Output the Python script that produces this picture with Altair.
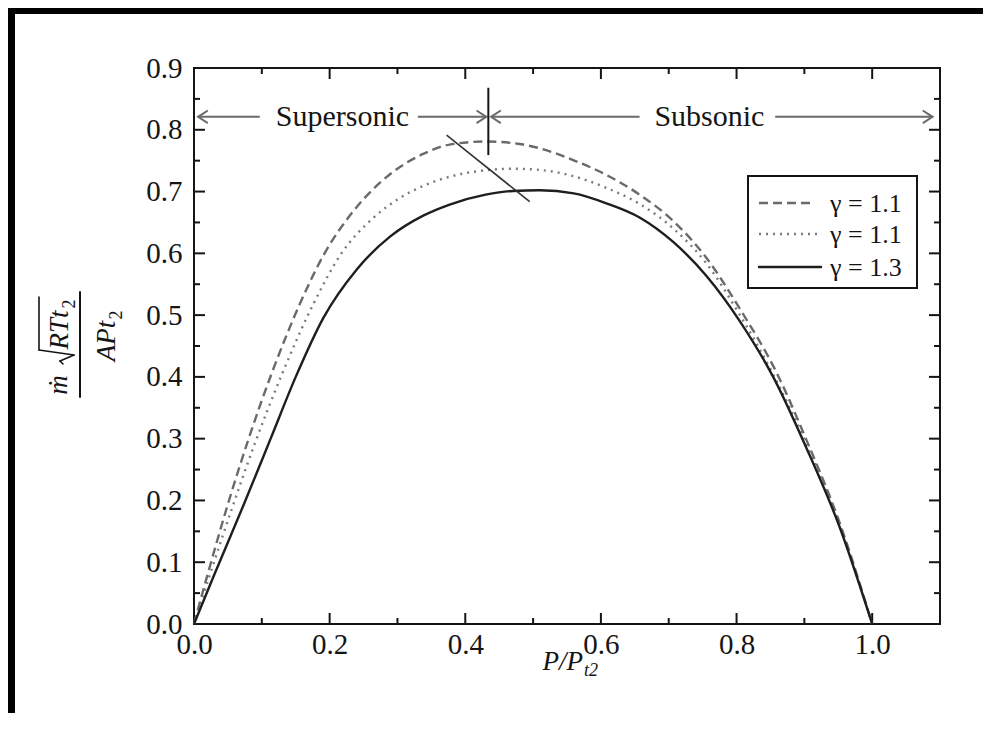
import altair as alt
import pandas as pd

# ---------------- data ----------------
x_dash = [0, 0.020, 0.050, 0.080, 0.115, 0.156, 0.191, 0.240, 0.289, 0.338, 0.377, 0.430,
          0.480, 0.510, 0.559, 0.608, 0.657, 0.707, 0.756, 0.805, 0.859, 0.903, 0.952, 1.0]
y_dash = [0, 0.080, 0.194, 0.298, 0.407, 0.518, 0.597, 0.675, 0.728, 0.761, 0.776, 0.781,
          0.777, 0.770, 0.751, 0.727, 0.695, 0.652, 0.592, 0.510, 0.407, 0.298, 0.164, 0.0]

x_dot = [0, 0.025, 0.055, 0.090, 0.130, 0.176, 0.215, 0.264, 0.304, 0.340, 0.377, 0.426,
         0.470, 0.510, 0.559, 0.608, 0.657, 0.707, 0.756, 0.805, 0.854, 0.903, 0.952, 1.0]
y_dot = [0, 0.085, 0.184, 0.293, 0.405, 0.518, 0.596, 0.657, 0.690, 0.710, 0.724, 0.734,
         0.737, 0.735, 0.725, 0.706, 0.680, 0.640, 0.583, 0.500, 0.404, 0.291, 0.160, 0.0]

x_solid = [0, 0.030, 0.074, 0.113, 0.150, 0.191, 0.240, 0.289, 0.338, 0.377, 0.430,
           0.470, 0.510, 0.560, 0.608, 0.657, 0.707, 0.756, 0.805, 0.854, 0.903, 0.952, 1.0]
y_solid = [0, 0.080, 0.195, 0.300, 0.400, 0.496, 0.574, 0.627, 0.661, 0.679, 0.695,
           0.701, 0.702, 0.697, 0.681, 0.658, 0.618, 0.563, 0.490, 0.400, 0.285, 0.157, 0.0]

legend_labels = ["\u03b3 = 1.1", "\u03b3 = 1.1", "\u03b3 = 1.3"]

x_major = [0.0, 0.2, 0.4, 0.6, 0.8, 1.0]
x_minor = [0.1, 0.3, 0.5, 0.7, 0.9]
y_major = [0.0, 0.1, 0.2, 0.3, 0.4, 0.5, 0.6, 0.7, 0.8, 0.9]
y_minor = [0.05, 0.15, 0.25, 0.35, 0.45, 0.55, 0.65, 0.75, 0.85]

# annotation geometry (data units)
arrow_y = 0.821
seg_x = [0.006, 0.330, 0.438, 0.857]
seg_x2 = [0.097, 0.431, 0.657, 1.089]
arrow_left_tips = [0.006, 0.438]
arrow_right_tips = [0.431, 1.089]
region_text = ["Supersonic", "Subsonic"]
region_text_x = [0.219, 0.760]
sonic_x = [0.434]
sonic_y = [0.759]
sonic_y2 = [0.868]
locus_x = [0.3725]
locus_x2 = [0.495]
locus_y = [0.7915]
locus_y2 = [0.6836]

FONT = "Liberation Serif, Times New Roman, serif"
INK = "#151515"
W, H = 746, 556

dash_df = pd.DataFrame({"x": x_dash, "y": y_dash})
dot_df = pd.DataFrame({"x": x_dot, "y": y_dot})
solid_df = pd.DataFrame({"x": x_solid, "y": y_solid})
one = pd.DataFrame({"a": [0]})

xs = alt.Scale(domain=[0, 1.1], nice=False, zero=False)
ys = alt.Scale(domain=[0, 0.9], nice=False, zero=False)

lab_x = alt.Axis(orient="bottom", values=x_major, format=".1f", ticks=False, tickSize=0,
                 domain=False, grid=False, labelFont=FONT, labelFontSize=29, labelColor=INK,
                 labelPadding=6, labelFlush=False, title=None)
lab_y = alt.Axis(orient="left", values=y_major, format=".1f", ticks=False, tickSize=0,
                 domain=False, grid=False, labelFont=FONT, labelFontSize=29, labelColor=INK,
                 labelPadding=12, labelFlush=False, title=None)

axis_layer = alt.Chart(solid_df).mark_line(opacity=0).encode(
    x=alt.X("x:Q", scale=xs, axis=lab_x), y=alt.Y("y:Q", scale=ys, axis=lab_y))


# inward ticks on all four sides
def xticks(values, p1, p2):
    return alt.Chart(pd.DataFrame({"v": values})).mark_rule(color=INK, strokeWidth=2).encode(
        x=alt.X("v:Q", scale=xs, axis=None), y=alt.value(p1), y2=alt.value(p2))


def yticks(values, p1, p2):
    return alt.Chart(pd.DataFrame({"v": values})).mark_rule(color=INK, strokeWidth=2).encode(
        y=alt.Y("v:Q", scale=ys, axis=None), x=alt.value(p1), x2=alt.value(p2))


ticks = [
    xticks(x_major, H, H - 11), xticks(x_minor, H, H - 6),
    xticks(x_major, 0, 11), xticks(x_minor, 0, 6),
    yticks(y_major, 0, 11), yticks(y_minor, 0, 6),
    yticks(y_major, W, W - 11), yticks(y_minor, W, W - 6),
]


def curve(df, color, dash, width):
    kw = dict(color=color, strokeWidth=width, interpolate="monotone", clip=False)
    if dash:
        kw["strokeDash"] = dash
    return alt.Chart(df).mark_line(**kw).encode(
        x=alt.X("x:Q", scale=xs, axis=None), y=alt.Y("y:Q", scale=ys, axis=None))


curves = [
    curve(dash_df, "#6a6a6a", [9, 5], 2.4),
    curve(dot_df, "#7a7a7a", [2, 5], 2.4),
    curve(solid_df, "#1e1e1e", None, 2.4),
]

# annotations in data units
segs = alt.Chart(pd.DataFrame({"x": seg_x, "x2": seg_x2, "y": [arrow_y] * 4})).mark_rule(
    color="#6a6a6a", strokeWidth=2).encode(
    x=alt.X("x:Q", scale=xs, axis=None), x2="x2:Q", y=alt.Y("y:Q", scale=ys, axis=None))

heads_l = alt.Chart(pd.DataFrame({"x": arrow_left_tips, "y": [arrow_y] * 2})).mark_point(
    shape="M1,-0.65L0,0L1,0.65", size=380, filled=False, stroke="#6a6a6a", strokeWidth=2,
    opacity=1).encode(x=alt.X("x:Q", scale=xs, axis=None), y=alt.Y("y:Q", scale=ys, axis=None))
heads_r = alt.Chart(pd.DataFrame({"x": arrow_right_tips, "y": [arrow_y] * 2})).mark_point(
    shape="M-1,-0.65L0,0L-1,0.65", size=380, filled=False, stroke="#6a6a6a", strokeWidth=2,
    opacity=1).encode(x=alt.X("x:Q", scale=xs, axis=None), y=alt.Y("y:Q", scale=ys, axis=None))

region_lbl = alt.Chart(pd.DataFrame({"x": region_text_x, "y": [arrow_y] * 2,
                                     "t": region_text})).mark_text(
    font=FONT, fontSize=30, color=INK, baseline="middle", align="center").encode(
    x=alt.X("x:Q", scale=xs, axis=None), y=alt.Y("y:Q", scale=ys, axis=None), text="t:N")

sonic = alt.Chart(pd.DataFrame({"x": sonic_x, "y": sonic_y, "y2": sonic_y2})).mark_rule(
    color=INK, strokeWidth=2).encode(
    x=alt.X("x:Q", scale=xs, axis=None), y=alt.Y("y:Q", scale=ys, axis=None), y2="y2:Q")

locus = alt.Chart(pd.DataFrame({"x": locus_x, "x2": locus_x2, "y": locus_y,
                                "y2": locus_y2})).mark_rule(color="#333333", strokeWidth=1.6).encode(
    x=alt.X("x:Q", scale=xs, axis=None), x2="x2:Q",
    y=alt.Y("y:Q", scale=ys, axis=None), y2="y2:Q")


# pixel-placed layout pieces (legend box, axis titles, frame)
def prule(x1, x2, y1, y2, color=INK, width=2, dash=None):
    kw = dict(color=color, strokeWidth=width, strokeCap="round")
    if dash:
        kw["strokeDash"] = dash
        kw["strokeCap"] = "butt"
    return alt.Chart(one).mark_rule(**kw).encode(
        x=alt.value(x1), x2=alt.value(x2), y=alt.value(y1), y2=alt.value(y2))


def ptext(txt, x, y, size, style="normal", angle=0, align="center", baseline="middle"):
    return alt.Chart(one).mark_text(text=txt, font=FONT, fontSize=size, fontStyle=style,
                                    angle=angle, align=align, baseline=baseline,
                                    color=INK).encode(x=alt.value(x), y=alt.value(y))


legend_box = alt.Chart(one).mark_rect(fill="white", stroke=INK, strokeWidth=2).encode(
    x=alt.value(554), x2=alt.value(723), y=alt.value(108), y2=alt.value(220))

legend = [
    legend_box,
    prule(565, 616, 135, 135, "#6a6a6a", 2.4, [9, 5]),
    prule(565, 627, 166, 166, "#7a7a7a", 2.4, [2, 5]),
    prule(565, 627, 199, 199, "#1e1e1e", 2.4),
    ptext(legend_labels[0], 636, 136, 26, align="left"),
    ptext(legend_labels[1], 636, 167, 26, align="left"),
    ptext(legend_labels[2], 636, 200, 26, align="left"),
]

titles = [
    # x axis title  P/P_t2
    ptext("P/P", 389, 602, 27, "italic", align="right", baseline="alphabetic"),
    ptext("t2", 390, 608, 18, "italic", align="left", baseline="alphabetic"),
    # y axis title: fraction  m-dot sqrt(R Tt2) / (A Pt2), rotated
    ptext("\u1e41", -127, 317, 27, "italic", angle=270, baseline="alphabetic"),
    prule(-155, -120, 282, 287, INK, 1.6),
    prule(-120, -134, 287, 293, INK, 1.6),
    prule(-134, -131, 293, 296, INK, 1.6),
    prule(-155, -155, 229, 282, INK, 1.6),
    ptext("RTt", -126, 262, 27, "italic", angle=270, baseline="alphabetic"),
    ptext("2", -119, 236, 18, "normal", angle=270, baseline="alphabetic"),
    prule(-114, -114, 224, 329, INK, 2),
    ptext("APt", -79, 273, 27, "italic", angle=270, baseline="alphabetic"),
    ptext("2", -72, 247, 18, "normal", angle=270, baseline="alphabetic"),
]

frame = [
    prule(-186, 789, -57, -57, "#000000", 6),
    prule(-182.5, -182.5, -60, 645, "#000000", 7),
]

chart = alt.layer(
    axis_layer, *ticks, *curves, segs, heads_l, heads_r, region_lbl, sonic, locus,
    *legend, *titles, *frame
).resolve_axis(x="independent", y="independent").properties(
    width=W, height=H,
    autosize=alt.AutoSizeParams(type="none"),
    padding={"left": 186, "top": 60, "right": 43, "bottom": 89},
    background="white",
).configure_view(stroke=INK, strokeWidth=2)

chart.save("out.html", embed_options={"renderer": "svg", "actions": False})
